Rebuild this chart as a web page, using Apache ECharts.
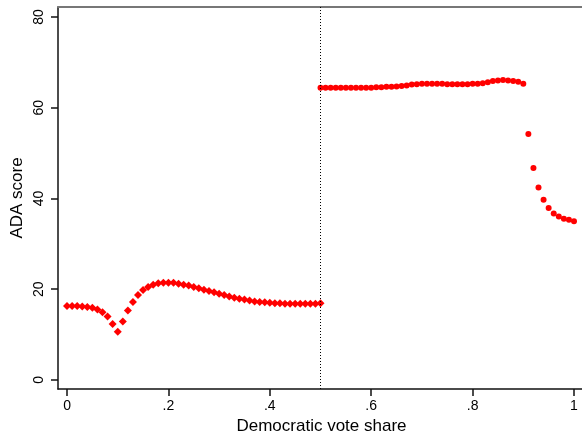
<!DOCTYPE html>
<html>
<head>
<meta charset="utf-8">
<script src="https://cdn.jsdelivr.net/npm/echarts@6/dist/echarts.min.js"></script>
<style>
  html, body { margin: 0; padding: 0; background: #fff; }
  #chart { width: 582px; height: 437px; }
</style>
</head>
<body>
<div id="chart"></div>
<script>
// left of the cutoff (diamonds)
const shareLeft = [0.00, 0.01, 0.02, 0.03, 0.04, 0.05, 0.06, 0.07, 0.08, 0.09,
  0.10, 0.11, 0.12, 0.13, 0.14, 0.15, 0.16, 0.17, 0.18, 0.19,
  0.20, 0.21, 0.22, 0.23, 0.24, 0.25, 0.26, 0.27, 0.28, 0.29,
  0.30, 0.31, 0.32, 0.33, 0.34, 0.35, 0.36, 0.37, 0.38, 0.39,
  0.40, 0.41, 0.42, 0.43, 0.44, 0.45, 0.46, 0.47, 0.48, 0.49, 0.50];
const scoreLeft = [16.3, 16.3, 16.3, 16.2, 16.1, 15.9, 15.5, 14.9, 14.0, 12.3,
  10.6, 12.9, 15.3, 17.2, 18.7, 19.8, 20.5, 21.0, 21.3, 21.4,
  21.4, 21.4, 21.2, 21.0, 20.8, 20.5, 20.2, 19.9, 19.6, 19.3,
  19.0, 18.7, 18.4, 18.1, 17.9, 17.7, 17.5, 17.3, 17.2, 17.1,
  17.0, 16.9, 16.9, 16.8, 16.8, 16.8, 16.8, 16.8, 16.8, 16.8, 16.9];

// right of the cutoff (dots)
const shareRight = [0.50, 0.51, 0.52, 0.53, 0.54, 0.55, 0.56, 0.57, 0.58, 0.59,
  0.60, 0.61, 0.62, 0.63, 0.64, 0.65, 0.66, 0.67, 0.68, 0.69,
  0.70, 0.71, 0.72, 0.73, 0.74, 0.75, 0.76, 0.77, 0.78, 0.79,
  0.80, 0.81, 0.82, 0.83, 0.84, 0.85, 0.86, 0.87, 0.88, 0.89, 0.90,
  0.91, 0.92, 0.93, 0.94, 0.95, 0.96, 0.97, 0.98, 0.99, 1.00];
const scoreRight = [64.4, 64.4, 64.4, 64.4, 64.4, 64.4, 64.4, 64.4, 64.4, 64.4,
  64.4, 64.5, 64.5, 64.6, 64.6, 64.7, 64.8, 64.9, 65.1, 65.2,
  65.3, 65.3, 65.3, 65.3, 65.3, 65.2, 65.2, 65.2, 65.2, 65.2,
  65.3, 65.3, 65.4, 65.6, 65.9, 66.0, 66.1, 66.0, 65.9, 65.7, 65.3,
  54.2, 46.7, 42.4, 39.7, 37.9, 36.7, 36.0, 35.5, 35.3, 35.0];

const xTicks = [0, 0.2, 0.4, 0.6, 0.8, 1];
const yTicks = [0, 20, 40, 60, 80];
const cutoff = 0.5;

const font = "'Liberation Sans', Arial, sans-serif";
const chart = echarts.init(document.getElementById("chart"));

const option = {
  animation: false,
  grid: { left: 58, top: 7, right: -3, bottom: 48, outerBoundsMode: "none", containLabel: false },
  xAxis: [
    {
      type: "value",
      min: -0.0178,
      max: 1.0217,
      name: "Democratic vote share",
      nameLocation: "middle",
      nameGap: 29,
      nameMoveOverlap: false,
      nameTextStyle: { color: "#000", fontSize: 17, fontFamily: font },
      axisLine: { show: true, onZero: false, lineStyle: { color: "#111", width: 1.5 } },
      axisTick: { show: true, length: 7, customValues: xTicks, lineStyle: { color: "#111", width: 1.5 } },
      axisLabel: {
        customValues: xTicks,
        margin: 10,
        color: "#000",
        fontSize: 14,
        fontFamily: font,
        formatter: (v) => (v === 0 ? "0" : v === 1 ? "1" : String(v).replace(/^0/, "")),
      },
      splitLine: { show: false },
    },
    {
      type: "value",
      position: "top",
      min: -0.0178,
      max: 1.0217,
      axisLine: { show: true, onZero: false, lineStyle: { color: "#777", width: 2 } },
      axisTick: { show: false },
      axisLabel: { show: false },
      splitLine: { show: false },
    },
  ],
  yAxis: {
    type: "value",
    min: -2,
    max: 82.2,
    name: "ADA score",
    nameLocation: "middle",
    nameGap: 32,
    nameMoveOverlap: false,
    nameTextStyle: { color: "#000", fontSize: 17, fontFamily: font },
    axisLine: { show: true, onZero: false, lineStyle: { color: "#111", width: 1.5 } },
    axisTick: { show: true, length: 7, customValues: yTicks, lineStyle: { color: "#111", width: 1.5 } },
    axisLabel: {
      customValues: yTicks,
      rotate: 90,
      margin: 12,
      color: "#000",
      fontSize: 14,
      fontFamily: font,
    },
    splitLine: { show: false },
  },
  series: [
    {
      type: "scatter",
      symbol: "diamond",
      symbolSize: 8,
      itemStyle: { color: "#ff0000", opacity: 1 },
      data: shareLeft.map((x, i) => [x, scoreLeft[i]]),
      markLine: {
        silent: true,
        symbol: "none",
        label: { show: false },
        lineStyle: { color: "#000", type: [1, 2], width: 1 },
        data: [{ xAxis: cutoff }],
      },
    },
    {
      type: "scatter",
      symbol: "circle",
      symbolSize: 6,
      itemStyle: { color: "#ff0000", opacity: 1 },
      data: shareRight.map((x, i) => [x, scoreRight[i]]),
    },
  ],
};
chart.setOption(option);
</script>
</body>
</html>
